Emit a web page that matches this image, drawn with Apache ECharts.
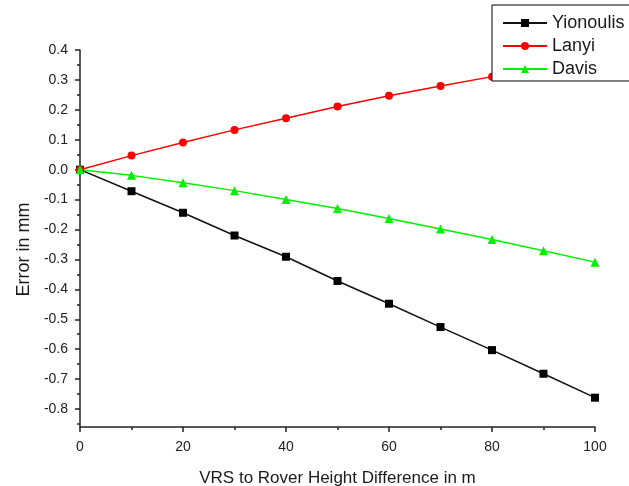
<!DOCTYPE html>
<html>
<head>
<meta charset="utf-8">
<script src="https://cdn.jsdelivr.net/npm/echarts@6/dist/echarts.min.js"></script>
<style>
  html, body { margin: 0; padding: 0; background: #fff; }
  #chart { width: 629px; height: 486px; }
</style>
</head>
<body>
<div id="chart"></div>
<script>
// height difference VRS -> rover (m)
const heightDiff = [0, 10, 20, 30, 40, 50, 60, 70, 80, 90, 100]
// error in mm
const yionoulis = [0, -0.072, -0.144, -0.220, -0.291, -0.372, -0.448, -0.526, -0.603, -0.682, -0.762]
const lanyi = [0, 0.047, 0.091, 0.133, 0.172, 0.211, 0.247, 0.280, 0.311, 0.342, 0.372]
const davis = [0, -0.019, -0.044, -0.070, -0.100, -0.130, -0.163, -0.198, -0.233, -0.271, -0.309]
// y axis ticks
const yTicks = [-0.8, -0.7, -0.6, -0.5, -0.4, -0.3, -0.2, -0.1, 0, 0.1, 0.2, 0.3, 0.4]
const yMinorTicks = [-0.85, -0.75, -0.65, -0.55, -0.45, -0.35, -0.25, -0.15, -0.05, 0.05, 0.15, 0.25, 0.35]

const font = '"Liberation Sans", Arial, sans-serif'
const axisColor = '#222'

function pairs(ys) {
  return heightDiff.map((x, i) => [x, ys[i]])
}

const chart = echarts.init(document.getElementById('chart'))
const option = {
  animation: false,
  backgroundColor: '#fff',
  textStyle: { fontFamily: font },
  grid: {
    left: 80,
    right: 34,
    top: 50,
    bottom: 59,
    containLabel: false,
    outerBoundsMode: 'none'
  },
  legend: {
    orient: 'vertical',
    left: 492,
    top: 5,
    padding: [9, 10, 3, 10],
    itemGap: 5,
    itemWidth: 44,
    itemHeight: 10,
    backgroundColor: '#fff',
    borderColor: '#000',
    borderWidth: 1,
    borderRadius: 0,
    textStyle: { fontSize: 18, color: '#1a1a1a', fontFamily: font },
    data: ['Yionoulis', 'Lanyi', 'Davis']
  },
  xAxis: {
    type: 'value',
    min: 0,
    max: 100,
    interval: 20,
    name: 'VRS to Rover Height Difference in m',
    nameLocation: 'middle',
    nameGap: 43,
    nameTextStyle: { fontSize: 17, color: '#1a1a1a' },
    axisLine: { onZero: false, lineStyle: { color: axisColor, width: 1.5 } },
    axisTick: { length: 5, lineStyle: { color: axisColor, width: 1.5 } },
    minorTick: { show: true, splitNumber: 2, length: 3, lineStyle: { color: axisColor, width: 1.5 } },
    axisLabel: { fontSize: 14, color: '#222', margin: 13 },
    splitLine: { show: false }
  },
  yAxis: [{
    type: 'value',
    position: 'left',
    min: -0.86,
    max: 0.4,
    name: 'Error in mm',
    nameLocation: 'middle',
    nameGap: 46,
    nameTextStyle: { fontSize: 18, color: '#1a1a1a', padding: [0, 22, 0, 0] },
    axisLine: { show: true, onZero: false, lineStyle: { color: axisColor, width: 1.5 } },
    axisTick: { show: true, length: 5, customValues: yTicks, lineStyle: { color: axisColor, width: 1.5 } },
    axisLabel: {
      fontSize: 14,
      color: '#222',
      margin: 12,
      customValues: yTicks,
      formatter: v => v.toFixed(1)
    },
    splitLine: { show: false }
  }, {
    type: 'value',
    position: 'left',
    min: -0.86,
    max: 0.4,
    axisLine: { show: false, onZero: false },
    axisTick: { show: true, length: 3, customValues: yMinorTicks, lineStyle: { color: axisColor, width: 1.5 } },
    axisLabel: { show: false },
    splitLine: { show: false }
  }],
  series: [{
    name: 'Yionoulis',
    type: 'line',
    data: pairs(yionoulis),
    symbol: 'rect',
    symbolSize: 8,
    color: '#000',
    lineStyle: { width: 1.5, color: '#111' },
    itemStyle: { color: '#000' }
  }, {
    name: 'Lanyi',
    type: 'line',
    data: pairs(lanyi),
    symbol: 'circle',
    symbolSize: 8,
    color: '#ff0000',
    lineStyle: { width: 1.5, color: '#ff0000' },
    itemStyle: { color: '#ff0000' }
  }, {
    name: 'Davis',
    type: 'line',
    data: pairs(davis),
    symbol: 'triangle',
    symbolSize: 9,
    color: '#00f000',
    lineStyle: { width: 1.5, color: '#00f000' },
    itemStyle: { color: '#00f000' }
  }]
}
chart.setOption(option)
</script>
</body>
</html>
